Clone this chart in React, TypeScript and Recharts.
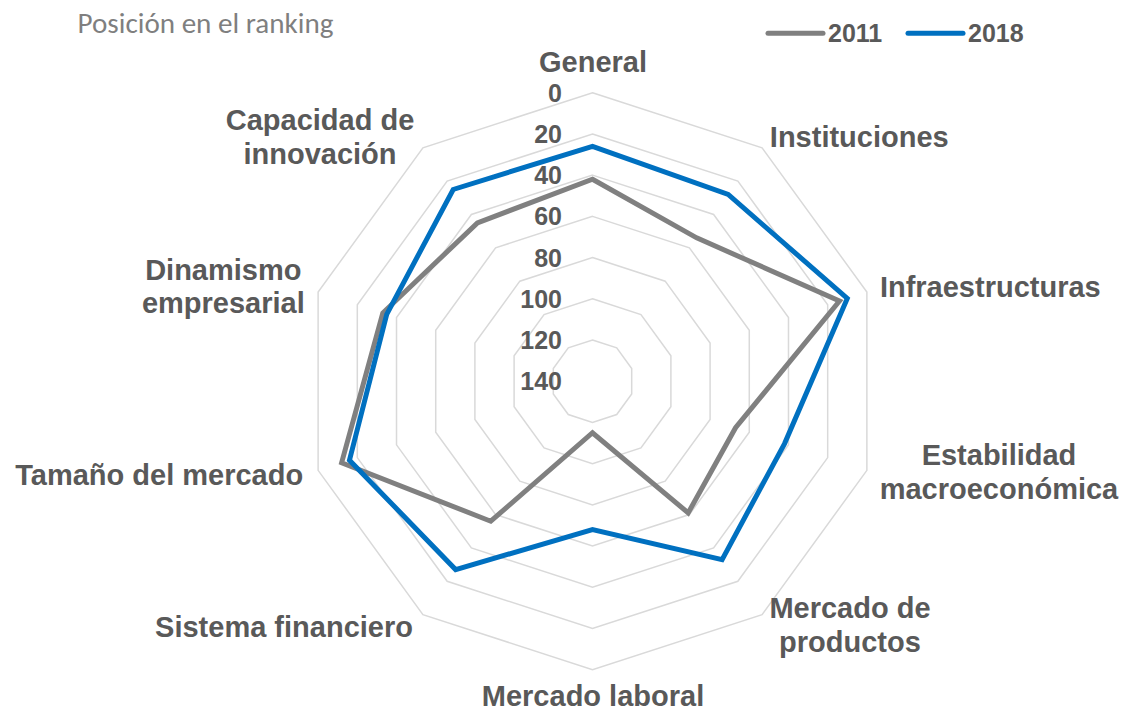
import React from 'react';
import { RadarChart, Radar, PolarGrid, PolarAngleAxis, PolarRadiusAxis } from 'recharts';

// ---- data ----
const categories = [
  'General',
  'Instituciones',
  'Infraestructuras',
  'Estabilidad\nmacroeconómica',
  'Mercado de\nproductos',
  'Mercado laboral',
  'Sistema financiero',
  'Tamaño del mercado',
  'Dinamismo\nempresarial',
  'Capacidad de\ninnovación',
];
const values2011 = [42, 54, 14, 67, 61, 115, 56, 12, 33, 45];
const values2018 = [26, 28, 10, 42, 33, 68, 27, 16, 35, 25];
const radiusTicks = [0, 20, 40, 60, 80, 100, 120, 140];
const seriesNames = ['2011', '2018'];
const titleText = 'Posición en el ranking';

// ---- layout / style ----
const W = 1125;
const H = 711;
const CX = 592.5;
const CY = 381.2;
const R = 288.5;
const LABEL_COLOR = '#595959';
const GRAY = '#808080';
const BLUE = '#0070C0';
const FONT = "'Liberation Sans', Arial, sans-serif";
const LINE_H = 33.5;
// offsets of the label block (centre x, first baseline) from the tick anchor
const labelOffsets: [number, number][] = [
  [0.5, -12.7],
  [92.5, 5.4],
  [115.8, 7.1],
  [124.5, -7.8],
  [83.2, -2.6],
  [0.5, 28.3],
  [-134.2, 16.4],
  [-151.3, 12.2],
  [-87.2, -9.6],
  [-98.2, -11.3],
];

const data = categories.map((c, i) => ({
  category: c,
  y2011: values2011[i],
  y2018: values2018[i],
}));

function AngleTick(props: any) {
  const { x, y, payload } = props;
  const idx = categories.indexOf(payload.value);
  const [dx, dy] = labelOffsets[idx] ?? [0, 0];
  const lines = String(payload.value).split('\n');
  const tx = x + dx;
  return (
    <text
      x={tx}
      y={y + dy}
      textAnchor="middle"
      fill={LABEL_COLOR}
      fontSize={29}
      fontWeight="bold"
      fontFamily={FONT}
    >
      {lines.map((l, i) => (
        <tspan key={i} x={tx} dy={i === 0 ? 0 : LINE_H}>
          {l}
        </tspan>
      ))}
    </text>
  );
}

function RadiusTick(props: any) {
  const { x, y, payload } = props;
  return (
    <text
      x={x - 30.5}
      y={y + 9}
      textAnchor="end"
      fill={LABEL_COLOR}
      fontSize={25}
      fontWeight="bold"
      fontFamily={FONT}
    >
      {payload.value}
    </text>
  );
}

function LegendBox() {
  const items = [
    { name: seriesNames[0], color: GRAY, x1: 768, x2: 823, tx: 828 },
    { name: seriesNames[1], color: BLUE, x1: 908, x2: 963, tx: 968 },
  ];
  return (
    <svg
      width={W}
      height={60}
      style={{ position: 'absolute', left: 0, top: 0, pointerEvents: 'none' }}
    >
      <text
        x={77.5}
        y={33}
        fill="#7F7F7F"
        fontSize={28}
        fontFamily="Carlito, 'Open Sans', sans-serif"
        textLength={256}
        lengthAdjust="spacingAndGlyphs"
      >
        {titleText}
      </text>
      {items.map((it) => (
        <g key={it.name}>
          <line
            x1={it.x1}
            x2={it.x2}
            y1={33.3}
            y2={33.3}
            stroke={it.color}
            strokeWidth={5}
            strokeLinecap="round"
          />
          <text
            x={it.tx}
            y={42}
            fill={LABEL_COLOR}
            fontSize={25}
            fontWeight="bold"
            fontFamily={FONT}
          >
            {it.name}
          </text>
        </g>
      ))}
    </svg>
  );
}

export default function App() {
  return (
    <div
      style={{
        position: 'absolute',
        left: 0,
        top: 0,
        width: W,
        height: H,
        background: '#ffffff',
      }}
    >
      <RadarChart
        width={W}
        height={H}
        data={data}
        cx={CX}
        cy={CY}
        outerRadius={R}
        startAngle={90}
        endAngle={-270}
        margin={{ top: 0, right: 0, bottom: 0, left: 0 }}
      >
        <PolarGrid gridType="polygon" radialLines={false} stroke="#D9D9D9" strokeWidth={1.5} />
        <PolarAngleAxis
          dataKey="category"
          axisLine={false}
          tickLine={false}
          tick={<AngleTick />}
        />
        <PolarRadiusAxis
          angle={90}
          type="number"
          domain={[0, 140]}
          ticks={radiusTicks}
          reversed
          axisLine={false}
          tickLine={false}
          tick={<RadiusTick />}
        />
        <Radar
          name={seriesNames[0]}
          dataKey="y2011"
          stroke={GRAY}
          strokeWidth={5}
          fill="none"
          fillOpacity={0}
          dot={false}
          strokeLinejoin="miter"
          isAnimationActive={false}
        />
        <Radar
          name={seriesNames[1]}
          dataKey="y2018"
          stroke={BLUE}
          strokeWidth={5}
          fill="none"
          fillOpacity={0}
          dot={false}
          strokeLinejoin="miter"
          isAnimationActive={false}
        />
      </RadarChart>
      <LegendBox />
    </div>
  );
}
